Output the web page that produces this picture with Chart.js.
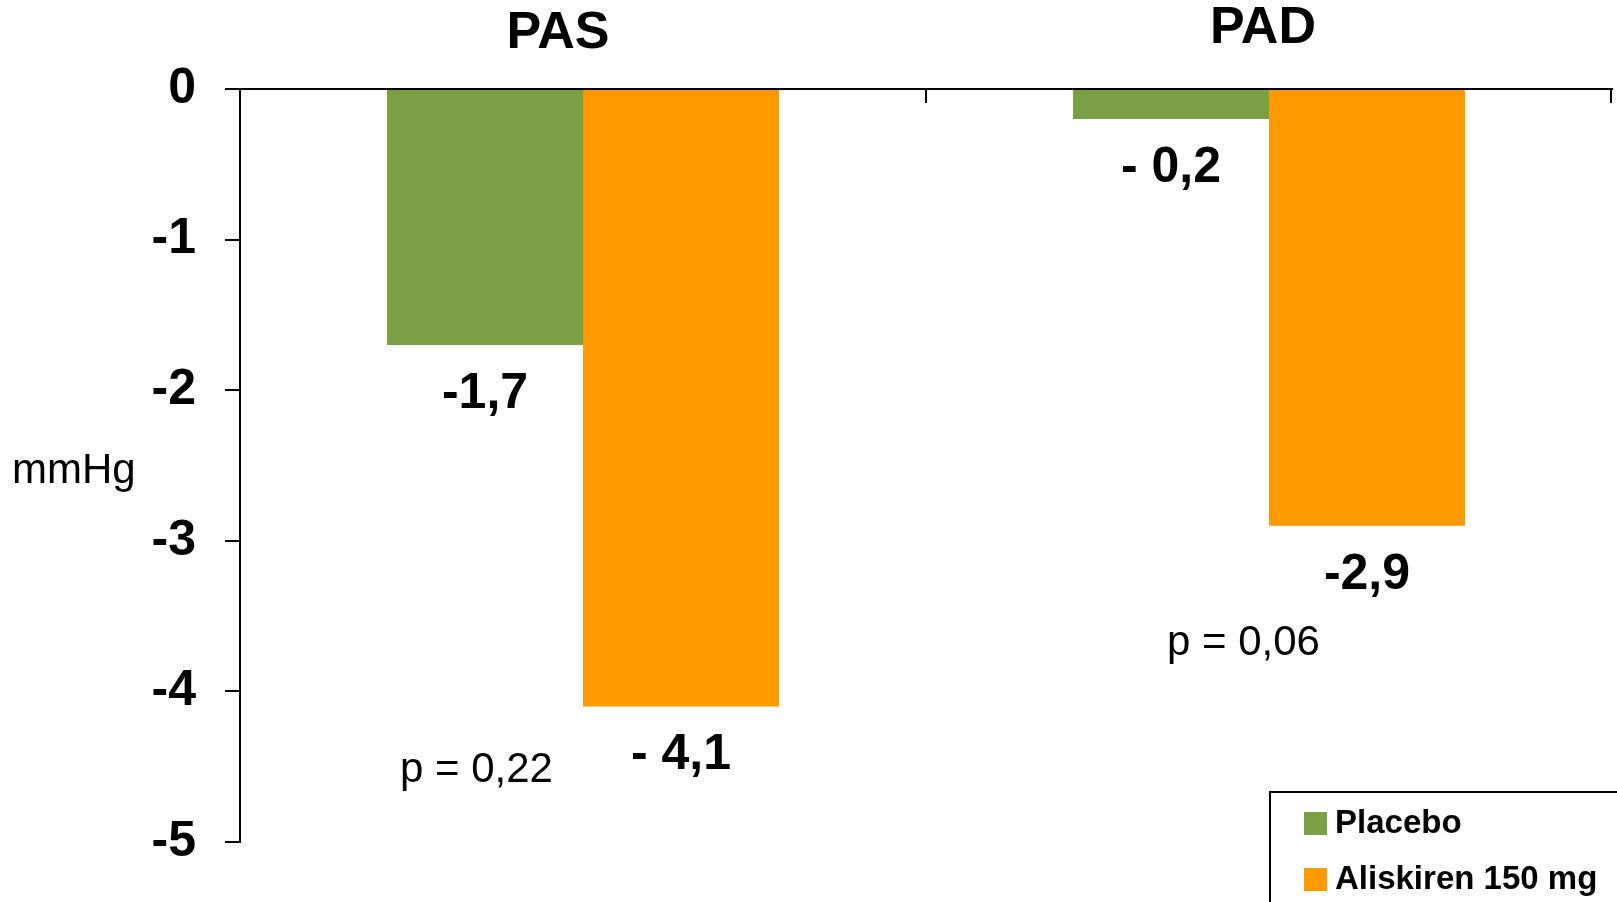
<!DOCTYPE html>
<html>
<head>
<meta charset="utf-8">
<title>PAS / PAD</title>
<script src="https://cdn.jsdelivr.net/npm/chart.js@4/dist/chart.umd.min.js"></script>
<style>
  html, body { margin: 0; padding: 0; background: #ffffff; }
  #wrap { width: 1617px; height: 902px; position: relative; }
</style>
</head>
<body>
<div id="wrap"><canvas id="chart"></canvas></div>
<script>
// Change in blood pressure (mmHg)
const categories = ['PAS', 'PAD'];
const seriesNames = ['Placebo', 'Aliskiren 150 mg'];
const placebo = [-1.7, -0.2];
const aliskiren = [-4.1, -2.9];
const placeboLabels = ['-1,7', '- 0,2'];
const aliskirenLabels = ['- 4,1', '-2,9'];
const pValues = ['p = 0,22', 'p = 0,06'];
const yTicks = [0, -1, -2, -3, -4, -5];
const unitLabel = 'mmHg';

const GREEN = '#7AA044';
const ORANGE = '#FF9900';
const FONT = '"Liberation Sans", Arial, Helvetica, sans-serif';

// Category titles, value labels, p-values, unit label, category ticks and legend box
const annotations = {
  id: 'annotations',
  afterDatasetsDraw(chart) {
    const ctx = chart.ctx;
    const x = chart.scales.x;
    const y = chart.scales.y;
    const area = chart.chartArea;
    ctx.save();

    // category separator ticks hanging from the zero line
    ctx.strokeStyle = '#000';
    ctx.lineWidth = 2;
    const mid = (x.getPixelForValue(0) + x.getPixelForValue(1)) / 2;
    [mid, area.right - 1].forEach(px => {
      ctx.beginPath();
      ctx.moveTo(px, area.top);
      ctx.lineTo(px, area.top + 14);
      ctx.stroke();
    });

    // category titles
    ctx.fillStyle = '#000';
    ctx.font = 'bold 52px ' + FONT;
    ctx.textAlign = 'center';
    ctx.textBaseline = 'middle';
    const titleShift = [[-25, 34], [-6, 29]];
    categories.forEach((c, i) => {
      ctx.fillText(c, x.getPixelForValue(i) + titleShift[i][0], titleShift[i][1]);
    });

    // value labels under each bar
    ctx.font = 'bold 50px ' + FONT;
    const labelSets = [placeboLabels, aliskirenLabels];
    chart.data.datasets.forEach((ds, di) => {
      const meta = chart.getDatasetMeta(di);
      meta.data.forEach((bar, i) => {
        ctx.fillText(labelSets[di][i], bar.x, bar.y + 49);
      });
    });

    // p-values
    ctx.font = '42px ' + FONT;
    ctx.textAlign = 'left';
    ctx.textBaseline = 'alphabetic';
    ctx.fillText(pValues[0], x.getPixelForValue(0) - 183, y.getPixelForValue(-4.6));
    ctx.fillText(pValues[1], x.getPixelForValue(1) - 102, y.getPixelForValue(-3.76));

    // unit label
    ctx.font = '42px ' + FONT;
    ctx.fillText(unitLabel, 12, 483);

    // legend
    const lx = 1270, ly = 792;
    ctx.strokeStyle = '#000';
    ctx.lineWidth = 2;
    ctx.beginPath();
    ctx.moveTo(lx, chart.height + 5);
    ctx.lineTo(lx, ly);
    ctx.lineTo(chart.width + 5, ly);
    ctx.stroke();
    ctx.font = 'bold 33px ' + FONT;
    ctx.textBaseline = 'middle';
    chart.data.datasets.forEach((ds, di) => {
      const rowY = ly + 31 + di * 56;
      ctx.fillStyle = ds.backgroundColor;
      ctx.fillRect(lx + 34, rowY - 11, 23, 23);
      ctx.fillStyle = '#000';
      ctx.fillText(ds.label, lx + 65, rowY + 1);
    });

    ctx.restore();
  }
};

new Chart(document.getElementById('chart'), {
  type: 'bar',
  data: {
    labels: categories,
    datasets: [
      { label: seriesNames[0], data: placebo, backgroundColor: GREEN, borderWidth: 0 },
      { label: seriesNames[1], data: aliskiren, backgroundColor: ORANGE, borderWidth: 0 }
    ]
  },
  options: {
    responsive: true,
    maintainAspectRatio: false,
    animation: false,
    events: [],
    layout: { padding: { top: 0, right: 5, bottom: 60, left: 0 } },
    datasets: { bar: { categoryPercentage: 0.5714, barPercentage: 1.0 } },
    plugins: {
      legend: { display: false },
      tooltip: { enabled: false },
      title: { display: false }
    },
    scales: {
      x: {
        position: 'top',
        offset: true,
        ticks: { display: false },
        grid: { display: false, drawTicks: false },
        border: { display: true, color: '#000', width: 2 },
        afterFit(scale) { scale.height = 89; }
      },
      y: {
        min: -5,
        max: 0,
        afterBuildTicks(scale) { scale.ticks = yTicks.map(v => ({ value: v })); },
        ticks: {
          color: '#000',
          font: { family: FONT, size: 50, weight: 'bold' },
          padding: 29,
          callback: v => String(v)
        },
        grid: {
          drawOnChartArea: false,
          color: '#000',
          lineWidth: 2,
          tickLength: 15
        },
        border: { display: true, color: '#000', width: 2 },
        afterFit(scale) { scale.width = 240; }
      }
    }
  },
  plugins: [annotations]
});
</script>
</body>
</html>
